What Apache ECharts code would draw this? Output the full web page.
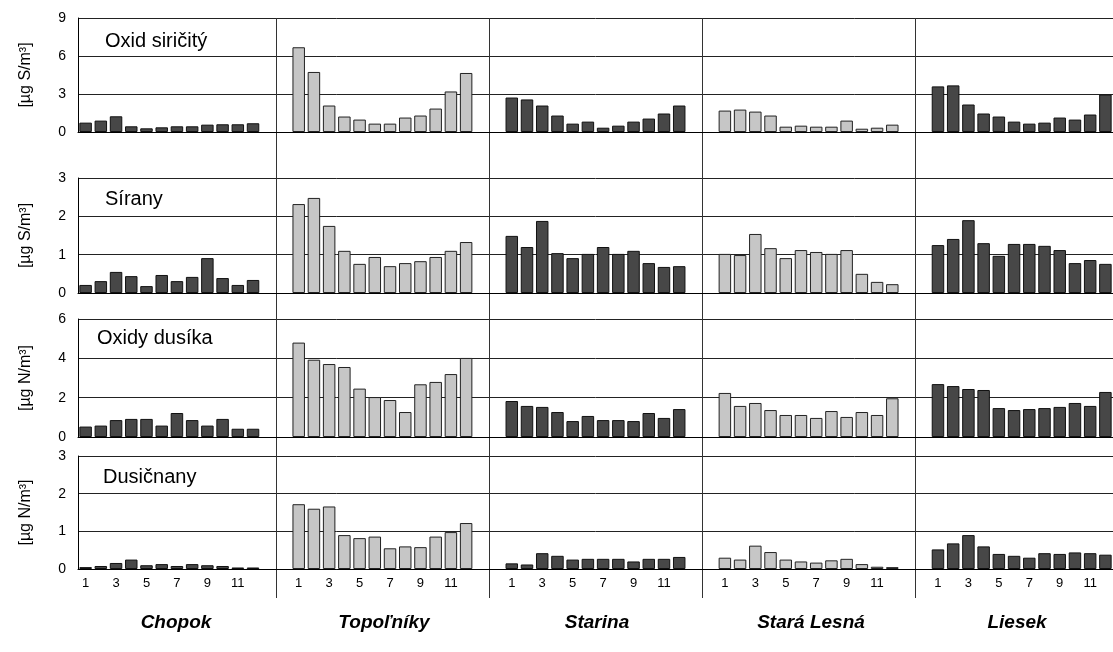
<!DOCTYPE html>
<html>
<head>
<meta charset="utf-8">
<script src="https://cdn.jsdelivr.net/npm/echarts@6/dist/echarts.min.js"></script>
<style>
  html, body { margin: 0; padding: 0; background: #fff; }
  #chart { width: 1113px; height: 652px; }
</style>
</head>
<body>
<div id="chart"></div>
<script>
// ---------- data ----------
const months = ['1','2','3','4','5','6','7','8','9','10','11','12'];
const stations = ['Chopok', 'Topoľníky', 'Starina', 'Stará Lesná', 'Liesek'];
const stationShade = ['dark', 'light', 'dark', 'light', 'dark'];

const rowTitles = ['Oxid siričitý', 'Sírany', 'Oxidy dusíka', 'Dusičnany'];
const rowUnits = ['[µg S/m³]', '[µg S/m³]', '[µg N/m³]', '[µg N/m³]'];
const rowMax = [9, 3, 6, 3];
const rowInterval = [3, 1, 2, 1];

// Oxid siričitý
const so2_Chopok     = [0.74, 0.90, 1.24, 0.45, 0.29, 0.37, 0.45, 0.45, 0.58, 0.61, 0.61, 0.69];
const so2_Topolniky  = [6.69, 4.74, 2.09, 1.22, 0.98, 0.66, 0.66, 1.14, 1.30, 1.85, 3.20, 4.66];
const so2_Starina    = [2.72, 2.57, 2.09, 1.30, 0.66, 0.82, 0.34, 0.50, 0.82, 1.06, 1.46, 2.09];
const so2_StaraLesna = [1.69, 1.77, 1.61, 1.30, 0.42, 0.50, 0.42, 0.42, 0.90, 0.26, 0.34, 0.58];
const so2_Liesek     = [3.60, 3.68, 2.17, 1.46, 1.22, 0.82, 0.66, 0.74, 1.14, 0.98, 1.38, 2.96];

// Sírany
const so4_Chopok     = [0.21, 0.31, 0.55, 0.44, 0.18, 0.47, 0.31, 0.42, 0.91, 0.39, 0.21, 0.34];
const so4_Topolniky  = [2.32, 2.48, 1.75, 1.10, 0.76, 0.94, 0.70, 0.78, 0.83, 0.94, 1.10, 1.33];
const so4_Starina    = [1.49, 1.20, 1.88, 1.04, 0.91, 1.02, 1.20, 1.02, 1.10, 0.78, 0.68, 0.70];
const so4_StaraLesna = [1.02, 0.99, 1.54, 1.17, 0.91, 1.12, 1.07, 1.02, 1.12, 0.50, 0.29, 0.23];
const so4_Liesek     = [1.25, 1.41, 1.90, 1.30, 0.97, 1.28, 1.28, 1.23, 1.12, 0.78, 0.86, 0.76];

// Oxidy dusíka
const nox_Chopok     = [0.53, 0.58, 0.86, 0.92, 0.92, 0.58, 1.22, 0.86, 0.58, 0.92, 0.42, 0.42];
const nox_Topolniky  = [4.80, 3.93, 3.71, 3.56, 2.46, 2.03, 1.88, 1.27, 2.68, 2.80, 3.20, 4.02];
const nox_Starina    = [1.83, 1.58, 1.53, 1.27, 0.81, 1.07, 0.86, 0.86, 0.81, 1.22, 0.97, 1.42];
const nox_StaraLesna = [2.24, 1.58, 1.73, 1.37, 1.12, 1.12, 0.97, 1.32, 1.02, 1.27, 1.12, 1.97];
const nox_Liesek     = [2.69, 2.59, 2.44, 2.39, 1.47, 1.37, 1.42, 1.47, 1.53, 1.73, 1.58, 2.29];

// Dusičnany
const no3_Chopok     = [0.05, 0.08, 0.16, 0.25, 0.10, 0.13, 0.08, 0.13, 0.10, 0.08, 0.04, 0.04];
const no3_Topolniky  = [1.72, 1.60, 1.66, 0.90, 0.82, 0.86, 0.55, 0.60, 0.58, 0.86, 0.98, 1.22];
const no3_Starina    = [0.15, 0.12, 0.42, 0.35, 0.25, 0.27, 0.27, 0.27, 0.20, 0.27, 0.27, 0.32];
const no3_StaraLesna = [0.30, 0.25, 0.62, 0.45, 0.25, 0.20, 0.17, 0.23, 0.27, 0.13, 0.06, 0.05];
const no3_Liesek     = [0.52, 0.68, 0.90, 0.60, 0.40, 0.35, 0.30, 0.42, 0.40, 0.44, 0.42, 0.38];

const rows = [
  [so2_Chopok, so2_Topolniky, so2_Starina, so2_StaraLesna, so2_Liesek],
  [so4_Chopok, so4_Topolniky, so4_Starina, so4_StaraLesna, so4_Liesek],
  [nox_Chopok, nox_Topolniky, nox_Starina, nox_StaraLesna, nox_Liesek],
  [no3_Chopok, no3_Topolniky, no3_Starina, no3_StaraLesna, no3_Liesek]
];

// ---------- build ----------
const FONT = 'Liberation Sans, Arial, sans-serif';
const SLOTS_PER_STATION = 14; // 12 months + 2 empty slots around the separator
const categories = [];
stations.forEach(function (s, i) {
  months.forEach(function (m) { categories.push(m); });
  if (i < stations.length - 1) { categories.push(''); categories.push(''); }
});
// slot boundaries (for the separator overlay axis, boundaryGap false)
const boundaries = [];
for (let k = 0; k <= categories.length; k++) boundaries.push(String(k));

const shadeStyle = {
  dark:  { color: '#474747', borderColor: '#111', borderWidth: 1 },
  light: { color: '#c6c6c6', borderColor: '#222', borderWidth: 1 }
};

function buildSeriesData(rowArrays) {
  const out = [];
  rowArrays.forEach(function (arr, s) {
    arr.forEach(function (v) {
      out.push({ value: v, itemStyle: shadeStyle[stationShade[s]] });
    });
    if (s < rowArrays.length - 1) { out.push('-'); out.push('-'); }
  });
  return out;
}

const gridPos = [
  { top: 18,  height: 114 },
  { top: 178, height: 115 },
  { top: 319, height: 118 },
  { top: 456, height: 113 }
];
const LEFT = 78, RIGHT = 0;

const grids = [], xAxes = [], yAxes = [], series = [], titles = [];
const titleTops = [31, 189, 328, 467];
const titleLefts = [105, 105, 97, 103];

gridPos.forEach(function (g, r) {
  grids.push({ left: LEFT, right: RIGHT, top: g.top, height: g.height, containLabel: false });
  xAxes.push({
    type: 'category', gridIndex: r, data: categories,
    axisLine: { show: true, lineStyle: { color: '#000', width: 1 } },
    axisTick: { show: false },
    axisLabel: {
      show: r === 3, interval: 0, margin: 8,
      fontFamily: FONT, fontSize: 13, color: '#000',
      formatter: function (v) { const n = parseInt(v, 10); return (n && n % 2 === 1) ? v : ''; }
    },
    splitLine: { show: false }
  });
  yAxes.push({
    type: 'value', gridIndex: r, min: 0, max: rowMax[r], interval: rowInterval[r],
    name: rowUnits[r], nameLocation: 'middle', nameRotate: 90, nameGap: 44,
    nameTextStyle: { fontFamily: FONT, fontSize: 16, color: '#000' },
    axisLine: { show: true, lineStyle: { color: '#000', width: 1 } },
    axisTick: { show: false },
    axisLabel: { fontFamily: FONT, fontSize: 14, color: '#000', margin: 12 },
    splitLine: { show: true, lineStyle: { color: '#222', width: 1 } }
  });
  series.push({
    type: 'bar', xAxisIndex: r, yAxisIndex: r,
    barCategoryGap: '18%',
    data: buildSeriesData(rows[r]),
    animation: false
  });
  titles.push({
    text: rowTitles[r], left: titleLefts[r], top: titleTops[r], padding: 0,
    textStyle: { fontFamily: FONT, fontSize: 20, fontWeight: 'normal', color: '#000' }
  });
});

// overlay grid used only for the vertical station separators
grids.push({ left: LEFT, right: RIGHT, top: 18, bottom: 54 });
xAxes.push({
  type: 'category', gridIndex: 4, data: boundaries, boundaryGap: false,
  axisLine: { show: false }, axisTick: { show: false }, axisLabel: { show: false },
  splitLine: {
    show: true,
    interval: function (index) { return index > 0 && index % SLOTS_PER_STATION === SLOTS_PER_STATION - 1; },
    lineStyle: { color: '#333', width: 1 }
  }
});
yAxes.push({ type: 'value', gridIndex: 4, show: false, min: 0, max: 1, splitLine: { show: false } });

// station names
const stationCenters = [176, 384, 597, 811, 1017];
const graphics = stations.map(function (name, i) {
  return {
    type: 'text', x: stationCenters[i], y: 623,
    style: {
      text: name, fill: '#000', align: 'center', verticalAlign: 'middle',
      font: 'italic bold 19px ' + FONT
    }
  };
});

const chart = echarts.init(document.getElementById('chart'), null, { renderer: 'canvas' });
chart.setOption({
  animation: false,
  backgroundColor: '#fff',
  title: titles,
  grid: grids,
  xAxis: xAxes,
  yAxis: yAxes,
  series: series,
  graphic: graphics
});
</script>
</body>
</html>
